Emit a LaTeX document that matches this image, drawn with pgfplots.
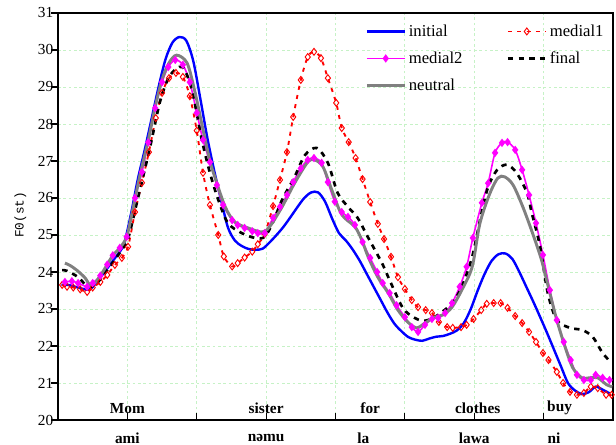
\documentclass[border=0pt]{standalone}
\usepackage{fontspec}
\setmainfont{Liberation Serif}
\newfontfamily\monofont{Liberation Mono}
\usepackage{pgfplots}
\pgfplotsset{compat=1.18}
\definecolor{cinit}{HTML}{0000FF}
\definecolor{cmed1}{HTML}{FF0000}
\definecolor{cmed2}{HTML}{FF00FF}
\definecolor{cneut}{HTML}{808080}
\definecolor{cgrid}{HTML}{C6F2C6}

\begin{document}
\begin{tikzpicture}
\begin{axis}[
 scale only axis, width=416.25pt, height=305.25pt,
 xmin=0, xmax=8, ymin=20, ymax=31,
 xtick={0,...,8}, xticklabels={}, ytick={20,...,31},
 xtick pos=bottom, ytick pos=left,
 tick align=inside, major tick length=5pt,
 ytick style={xshift=-5pt},
 tick style={black, line width=0.8pt},
 grid=major, grid style={cgrid, dash pattern=on 2pt off 2pt, line width=0.6pt},
 axis line style={line width=1.4pt},
 /pgf/number format/assume math mode=true,
 yticklabel style={font=\fontsize{11.5}{13}\selectfont},
 ylabel={\monofont F0(st)},
 ylabel style={at={(axis description cs:-0.068,0.504)}, anchor=center, font=\fontsize{9.5}{11}\selectfont},
 clip=false,
 legend columns=2, legend cell align=left,
 legend style={draw=none, fill=none, at={(axis description cs:0.546,0.985)}, anchor=north west,
   font=\fontsize{12.5}{14}\selectfont, row sep=6pt,
   /tikz/column 2/.style={column sep=31pt}},
 legend image code/.code={\draw[mark repeat=2,mark phase=2,#1] plot coordinates {(0cm,0cm) (0.5cm,0cm) (1cm,0cm)};},
]
% initial
\addplot[cinit, line width=1.8pt, smooth, mark=none] coordinates {
(0.05,23.65)(0.15,23.65)(0.25,23.6)(0.35,23.55)(0.45,23.52)(0.55,23.7)(0.65,23.95)(0.75,24.2)(0.85,24.45)(0.95,24.75)
(1.05,25.55)(1.15,26.5)(1.25,27.3)(1.35,28.15)(1.45,29.0)(1.55,29.75)(1.65,30.2)(1.75,30.35)(1.85,30.25)(1.95,29.7)
(2.05,28.7)(2.15,27.65)(2.25,26.75)(2.35,25.95)(2.45,25.2)(2.55,24.85)(2.65,24.7)(2.75,24.62)(2.85,24.6)(2.95,24.63)
(3.05,24.8)(3.15,25.0)(3.25,25.22)(3.35,25.48)(3.45,25.75)(3.55,26.0)(3.65,26.15)(3.75,26.15)(3.85,25.9)(3.95,25.45)
(4.05,25.05)(4.15,24.85)(4.25,24.6)(4.35,24.3)(4.45,23.95)(4.55,23.6)(4.65,23.25)(4.75,22.9)(4.85,22.6)(4.95,22.4)
(5.05,22.24)(5.15,22.17)(5.25,22.14)(5.35,22.2)(5.45,22.25)(5.55,22.27)(5.65,22.33)(5.75,22.42)(5.85,22.62)(5.95,23.0)
(6.05,23.5)(6.15,23.95)(6.25,24.3)(6.35,24.48)(6.45,24.5)(6.55,24.35)(6.65,24.0)(6.75,23.6)(6.85,23.2)(6.95,22.78)
(7.05,22.35)(7.15,21.9)(7.25,21.45)(7.35,21.0)(7.45,20.8)(7.55,20.7)(7.65,20.75)(7.75,20.9)(7.85,20.82)(7.95,20.72)};
\addlegendentry{initial}
% medial1
\addplot[cmed1, line width=1.4pt, dash pattern=on 3pt off 4pt, smooth, mark=diamond,
 mark size=2.6pt, mark options={solid, fill=white, line width=0.7pt}] coordinates {
(0.06,23.65)(0.13,23.6)(0.22,23.58)(0.32,23.53)(0.42,23.46)(0.50,23.58)(0.61,23.73)(0.71,23.92)(0.82,24.19)(0.92,24.38)
(1.01,24.68)(1.11,25.62)(1.21,26.41)(1.31,27.24)(1.41,28.16)(1.50,28.84)(1.60,29.24)(1.70,29.38)(1.80,29.27)(1.90,28.75)
(2.00,27.82)(2.09,26.68)(2.19,25.81)(2.31,25.0)(2.39,24.42)(2.51,24.15)(2.59,24.24)(2.69,24.39)(2.80,24.55)(2.88,24.75)
(2.98,25.03)(3.10,25.78)(3.20,26.49)(3.30,27.24)(3.39,28.19)(3.50,29.19)(3.60,29.81)(3.69,29.95)(3.79,29.78)(3.89,29.24)
(4.01,28.57)(4.09,27.89)(4.19,27.51)(4.29,27.08)(4.39,26.51)(4.50,25.89)(4.61,25.3)(4.70,24.89)(4.80,24.41)(4.90,23.86)
(5.00,23.54)(5.10,23.24)(5.19,23.05)(5.30,22.97)(5.39,22.89)(5.49,22.65)(5.61,22.51)(5.69,22.49)(5.81,22.51)(5.89,22.57)
(5.99,22.73)(6.10,22.97)(6.18,23.14)(6.28,23.16)(6.38,23.16)(6.48,23.03)(6.59,22.81)(6.69,22.62)(6.79,22.38)(6.89,22.11)
(6.99,21.81)(7.07,21.62)(7.19,21.3)(7.28,21.0)(7.38,20.76)(7.48,20.68)(7.58,20.73)(7.68,20.9)(7.78,20.86)(7.90,20.68)(7.98,20.68)};
\addlegendentry{medial1}
% medial2
\addplot[cmed2, line width=1.2pt, smooth, mark=diamond*, mark size=2.2pt,
 mark options={fill=cmed2}] coordinates {
(0.10,23.73)(0.20,23.75)(0.29,23.7)(0.42,23.6)(0.50,23.7)(0.61,23.9)(0.71,24.2)(0.79,24.45)(0.89,24.65)(0.99,24.95)
(1.11,26.0)(1.21,26.7)(1.30,27.5)(1.40,28.43)(1.50,29.13)(1.59,29.54)(1.69,29.73)(1.80,29.6)(1.90,29.13)(2.00,28.3)
(2.09,27.57)(2.19,26.97)(2.29,26.35)(2.38,25.81)(2.51,25.4)(2.59,25.27)(2.69,25.19)(2.80,25.1)(2.88,25.05)(2.98,25.05)
(3.10,25.46)(3.20,25.76)(3.30,26.08)(3.39,26.43)(3.50,26.8)(3.60,27.03)(3.69,27.08)(3.80,26.95)(3.89,26.43)(3.99,25.9)
(4.09,25.62)(4.18,25.49)(4.28,25.27)(4.39,24.81)(4.50,24.38)(4.60,24.0)(4.68,23.7)(4.78,23.43)(4.88,23.1)(5.00,22.78)
(5.10,22.51)(5.19,22.38)(5.29,22.57)(5.39,22.73)(5.48,22.76)(5.58,22.89)(5.68,23.16)(5.79,23.6)(5.89,24.14)(5.98,24.92)
(6.11,25.87)(6.20,26.4)(6.30,27.22)(6.40,27.49)(6.48,27.51)(6.59,27.3)(6.69,26.76)(6.79,26.08)(6.89,25.32)(6.99,24.46)
(7.09,23.51)(7.19,22.7)(7.29,22.11)(7.39,21.62)(7.48,21.22)(7.58,21.08)(7.68,21.08)(7.75,21.22)(7.85,21.14)(7.95,21.08)};
\addlegendentry{medial2}
% final
\addplot[black, line width=2pt, dash pattern=on 4pt off 4pt, smooth, mark=none] coordinates {
(0.06,24.05)(0.13,24.03)(0.29,23.86)(0.43,23.6)(0.53,23.65)(0.61,23.8)(0.75,24.15)(0.92,24.6)(1.01,24.9)(1.14,25.9)
(1.33,27.4)(1.47,28.6)(1.61,29.3)(1.79,29.54)(1.93,28.92)(2.07,27.6)(2.19,26.68)(2.31,25.95)(2.45,25.32)(2.65,25.05)
(2.84,24.92)(2.98,24.95)(3.10,25.35)(3.23,25.95)(3.41,26.57)(3.56,27.16)(3.73,27.35)(3.89,26.95)(4.03,26.14)(4.18,25.76)
(4.32,25.46)(4.45,25.0)(4.67,24.24)(4.78,23.78)(4.97,23.03)(5.14,22.76)(5.29,22.68)(5.48,22.84)(5.68,23.16)(5.82,23.6)
(5.97,24.41)(6.10,25.55)(6.20,26.3)(6.33,26.76)(6.47,26.9)(6.61,26.68)(6.76,26.14)(6.83,25.59)(6.95,24.68)(7.06,23.43)
(7.19,22.7)(7.38,22.49)(7.56,22.43)(7.71,22.24)(7.85,21.81)(7.98,21.54)};
\addlegendentry{final}
% neutral
\addplot[cneut, line width=2.2pt, smooth, mark=none] coordinates {
(0.10,24.24)(0.17,24.18)(0.27,24.05)(0.39,23.84)(0.46,23.65)(0.53,23.7)(0.61,23.9)(0.71,24.2)(0.79,24.45)(0.89,24.65)
(0.99,24.95)(1.08,25.7)(1.18,26.6)(1.30,27.55)(1.40,28.45)(1.50,29.2)(1.60,29.65)(1.71,29.86)(1.86,29.65)(1.97,28.9)
(2.09,27.85)(2.19,27.0)(2.26,26.57)(2.41,25.76)(2.55,25.35)(2.74,25.19)(2.94,25.08)(3.05,25.22)(3.23,25.76)(3.41,26.4)
(3.60,26.97)(3.70,27.03)(3.82,26.84)(3.95,26.2)(4.09,25.55)(4.28,25.22)(4.38,24.86)(4.47,24.41)(4.61,23.86)(4.76,23.43)
(4.90,22.97)(5.04,22.65)(5.17,22.49)(5.29,22.62)(5.43,22.78)(5.55,22.84)(5.68,23.05)(5.82,23.51)(5.97,24.14)(6.08,25.3)
(6.22,26.1)(6.34,26.54)(6.44,26.57)(6.56,26.35)(6.70,25.76)(6.84,25.05)(6.97,24.32)(7.09,23.43)(7.19,22.7)(7.31,21.97)
(7.42,21.41)(7.55,21.14)(7.66,21.14)(7.78,21.14)(7.91,20.95)(7.99,20.9)};
\addlegendentry{neutral}
% word labels
\begin{scope}[every node/.style={font=\bfseries\fontsize{11.5}{13}\selectfont}]
\node at (axis cs:1.0,20.32) {Mom};
\node at (axis cs:3.0,20.32) {sister};
\node at (axis cs:4.5,20.32) {for};
\node at (axis cs:6.05,20.32) {clothes};
\node at (axis cs:7.23,20.32) {buy};
\node at (axis cs:1.0,19.51) {ami};
\node at (axis cs:3.0,19.51) {nəmu};
\node at (axis cs:4.4,19.51) {la};
\node at (axis cs:6.0,19.51) {lawa};
\node at (axis cs:7.15,19.51) {ni};
\end{scope}
\coordinate (bbA) at (rel axis cs:-0.1045,-0.0614);
\coordinate (bbB) at (rel axis cs:1.0054,1.0319);
\end{axis}
\pgfresetboundingbox
\path[use as bounding box] (bbA) rectangle (bbB);
\end{tikzpicture}
\end{document}
